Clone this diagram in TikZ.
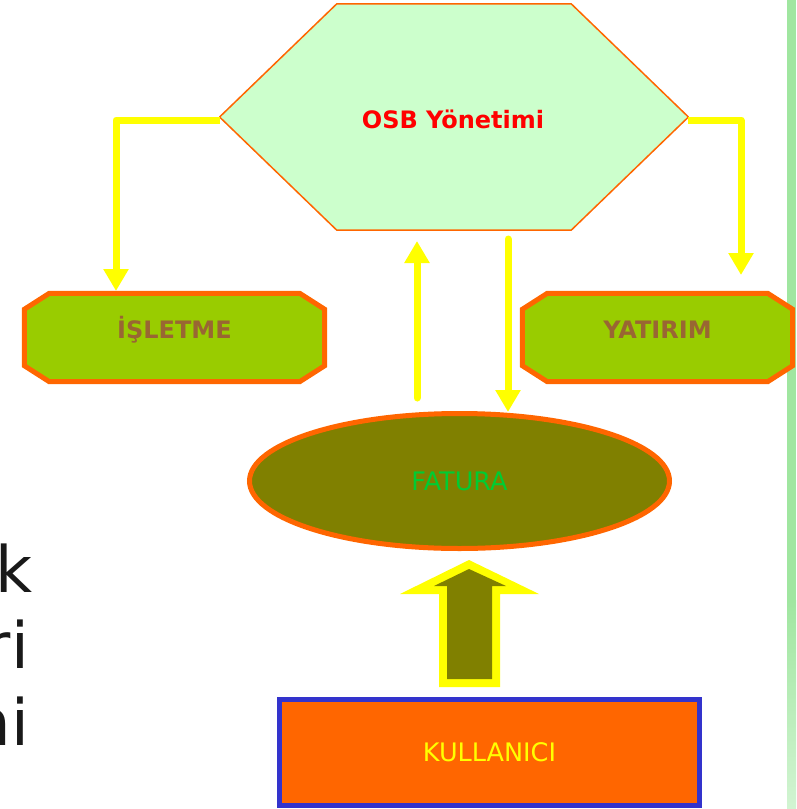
\documentclass[tikz,border=0pt]{standalone}
\usepackage{fontspec}
\setmainfont{DejaVu Sans}
\usetikzlibrary{shapes.geometric,arrows.meta}
\definecolor{osbfill}{HTML}{CCFFCC}
\definecolor{turuncu}{HTML}{FF6600}
\definecolor{yesil}{HTML}{99CC00}
\definecolor{kahve}{HTML}{996633}
\definecolor{zeytin}{HTML}{808000}
\definecolor{lacivert}{HTML}{3333CC}
\definecolor{fatyazi}{HTML}{00CC33}
\definecolor{sari}{HTML}{FFFF00}
\definecolor{barust}{HTML}{A0E6A0}
\definecolor{baralt}{HTML}{D2F4D2}
\def\yazi{\fontsize{25.5}{30}\selectfont}
\def\kalin{\fontsize{24}{29}\selectfont\bfseries}
\def\iri{\fontsize{64}{77}\selectfont}
% #1 node, #2 chamfer x, #3 chamfer y, #4 style
\def\pahli#1#2#3#4{\draw [#4] ([xshift=#2]#1.north west) -- ([xshift=-#2]#1.north east) -- ([yshift=-#3]#1.north east) -- ([yshift=#3]#1.south east) -- ([xshift=-#2]#1.south east) -- ([xshift=#2]#1.south west) -- ([yshift=#3]#1.south west) -- ([yshift=-#3]#1.north west) -- cycle;}
\begin{document}
\begin{tikzpicture}[x=1pt,y=-1pt,
				hexa/.style={draw=turuncu,line width=1.5pt,fill=osbfill,line join=miter},
				hexalab/.style={font=\kalin,text=red},
				box/.style={draw=turuncu,line width=5pt,fill=yesil},
				boxlab/.style={font=\kalin,text=kahve,yshift=8pt},
				oval/.style={ellipse,draw=turuncu,line width=5pt,fill=zeytin,minimum width=420pt,minimum height=135pt,font=\yazi,text=fatyazi},
				user/.style={rectangle,draw=lacivert,line width=5pt,fill=turuncu,minimum width=420pt,minimum height=106pt,font=\yazi,text=sari},
				conn/.style={draw=sari,line width=7pt,line join=round,-{Triangle[width=24pt,length=22pt]}},
				cut/.style={anchor=base east,font=\iri,text=black!90},
				inner sep=0pt]
				\useasboundingbox (0,0) rectangle (796,809);
				\fill [barust] (787,0) rectangle (796,600);
				\shade [top color=barust,bottom color=baralt] (787,600) rectangle (796,809);
				\node [cut] (satir1) at (33,592) {k};
				\node [cut] (satir2) at (29,668) {ri};
				\node [cut] (satir3) at (29,745) {ni};
				\node [minimum width=468pt,minimum height=226pt]	(osb)	at (454,117)	{};
					\pahli{osb}{117pt}{113pt}{hexa}
					\node [hexalab] (osbyazi) at (453,119) {OSB Yönetimi};
				\node [minimum width=300pt,minimum height=88pt]	(isletme)	at (174.5,337.5)	{};
					\pahli{isletme}{25pt}{16pt}{box}
					\node [boxlab] (isletmeyazi) at (isletme) {İŞLETME};
				\node [minimum width=270pt,minimum height=88pt]	(yatirim)	at (657.5,337.5)	{};
					\pahli{yatirim}{25pt}{16pt}{box}
					\node [boxlab] (yatirimyazi) at (yatirim) {YATIRIM};
				\node [oval]		(fatura)	at (459.5,481)		{FATURA};
				\node [user]		(kullanici)	at (489.5,752.5)	{KULLANICI};
				\coordinate (islin) at (116,291);
				\coordinate (yatin) at (741,275);
				\coordinate (upbas) at (417,398);
				\coordinate (upuc) at (417,241);
				\coordinate (downbas) at (508,239);
				\coordinate (downuc) at (508,412);
				\draw [conn] ([yshift=-3pt]osb.west) -| (islin);
				\draw [conn] ([yshift=-3pt]osb.east) -| (yatin);
				\draw [conn,line cap=round] (upbas) -- (upuc);
				\draw [conn,line cap=round] (downbas) -- (downuc);
				\fill [sari] (469,560) -- (539,594) -- (500,594) -- (500,687) -- (439,687) -- (439,594) -- (400,594) -- cycle;
				\fill [zeytin] (469,569) -- (506,586) -- (492,586) -- (492,679) -- (447,679) -- (447,586) -- (434,586) -- cycle;
			\end{tikzpicture}
\end{document}
